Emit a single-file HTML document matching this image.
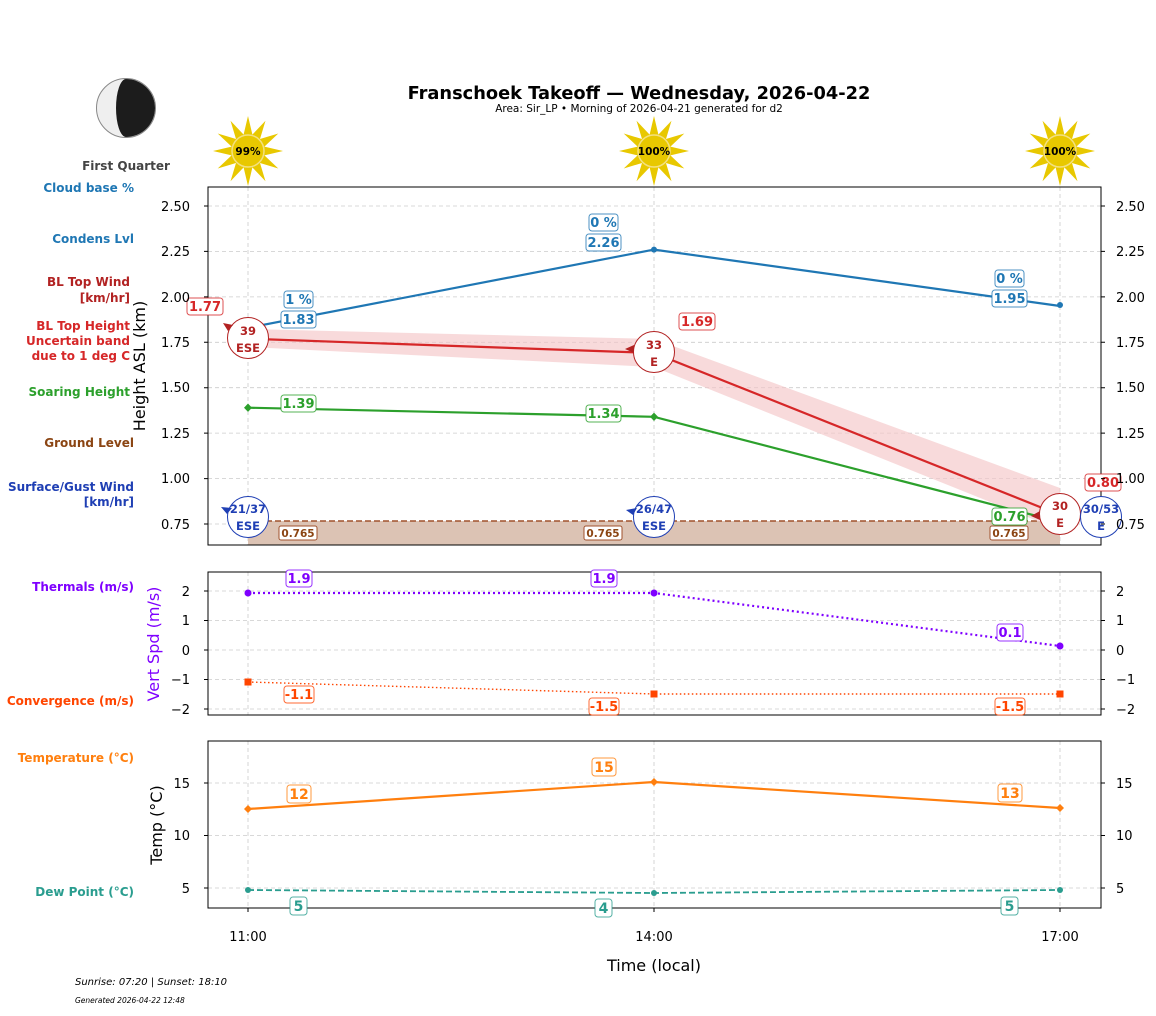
<!DOCTYPE html>
<html><head><meta charset="utf-8"><style>
body{margin:0;background:#fff}
svg{font-family:"DejaVu Sans","Liberation Sans",sans-serif}
.g{stroke:#ccc;stroke-width:0.8;stroke-dasharray:4,3}
</style></head><body>
<svg width="1156" height="1011" viewBox="0 0 1156 1011" xmlns="http://www.w3.org/2000/svg">
<defs>
<g id="sun">
<polygon fill="#e8c800" points="35,0 16.4,4.4 30.3,17.5 12,12 17.5,30.3 4.4,16.4 0,35 -4.4,16.4 -17.5,30.3 -12,12 -30.3,17.5 -16.4,4.4 -35,0 -16.4,-4.4 -30.3,-17.5 -12,-12 -17.5,-30.3 -4.4,-16.4 0,-35 4.4,-16.4 17.5,-30.3 12,-12 30.3,-17.5 16.4,-4.4"/>
<circle r="16" fill="#e8c800" stroke="#f3e080" stroke-width="1.5"/>
</g>
</defs>
<text x="639" y="99" text-anchor="middle" font-size="17.8" font-weight="bold">Franschoek Takeoff — Wednesday, 2026-04-22</text>
<text x="639" y="112" text-anchor="middle" font-size="10.5">Area: Sir_LP • Morning of 2026-04-21 generated for d2</text>
<circle cx="126" cy="108" r="29.5" fill="#efefef" stroke="#888" stroke-width="1"/>
<path d="M126,79 A29,29 0 0 1 126,137 A10,29 0 0 1 126,79Z" fill="#1c1c1c"/>
<text x="126" y="170" text-anchor="middle" font-size="12" font-weight="bold" fill="#444">First Quarter</text>
<use href="#sun" x="248" y="151"/><text x="248" y="155" text-anchor="middle" font-size="10.5" font-weight="bold">99%</text>
<use href="#sun" x="654" y="151"/><text x="654" y="155" text-anchor="middle" font-size="10.5" font-weight="bold">100%</text>
<use href="#sun" x="1060" y="151"/><text x="1060" y="155" text-anchor="middle" font-size="10.5" font-weight="bold">100%</text>
<g font-size="12" font-weight="bold" text-anchor="end">
<text x="134" y="192" fill="#1f77b4">Cloud base %</text>
<text x="134" y="243" fill="#1f77b4">Condens Lvl</text>
<text x="130" y="286" fill="#b22222">BL Top Wind</text>
<text x="130" y="302" fill="#b22222">[km/hr]</text>
<text x="130" y="330" fill="#d62728">BL Top Height</text>
<text x="130" y="345" fill="#d62728">Uncertain band</text>
<text x="130" y="360" fill="#d62728">due to 1 deg C</text>
<text x="130" y="396" fill="#2ca02c">Soaring Height</text>
<text x="134" y="447" fill="#8b4513">Ground Level</text>
<text x="134" y="491" fill="#1f3fb4">Surface/Gust Wind</text>
<text x="134" y="506" fill="#1f3fb4">[km/hr]</text>
<text x="134" y="591" fill="#7f00ff">Thermals (m/s)</text>
<text x="134" y="705" fill="#ff4500">Convergence (m/s)</text>
<text x="134" y="762" fill="#ff7f0e">Temperature (°C)</text>
<text x="134" y="896" fill="#2a9d8f">Dew Point (°C)</text>
</g>
<g class="g">
<line x1="248" y1="187" x2="248" y2="545"/><line x1="654" y1="187" x2="654" y2="545"/><line x1="1060" y1="187" x2="1060" y2="545"/>
<line x1="208" y1="206" x2="1101" y2="206"/><line x1="208" y1="251.4" x2="1101" y2="251.4"/><line x1="208" y1="296.9" x2="1101" y2="296.9"/><line x1="208" y1="342.3" x2="1101" y2="342.3"/><line x1="208" y1="387.7" x2="1101" y2="387.7"/><line x1="208" y1="433.1" x2="1101" y2="433.1"/><line x1="208" y1="478.6" x2="1101" y2="478.6"/><line x1="208" y1="524" x2="1101" y2="524"/>
</g>
<rect x="248" y="521" width="812" height="24" fill="#dcc3b4"/>
<line x1="248" y1="521" x2="1060" y2="521" stroke="#a0522d" stroke-width="1.5" stroke-dasharray="6,3"/>
<polygon points="248,329 654,339 1060,488 1060,530 654,367 248,347" fill="#f5c6c8" opacity="0.65"/>
<polyline points="248,338.7 654,353 1060,515" fill="none" stroke="#d62728" stroke-width="2.2"/>
<polyline points="248,327.8 654,249.6 1060,306" fill="none" stroke="#1f77b4" stroke-width="2.2"/>
<circle cx="654" cy="249.6" r="3" fill="#1f77b4"/><circle cx="1060" cy="305" r="3" fill="#1f77b4"/>
<polyline points="248,407.7 654,416.8 1060,522" fill="none" stroke="#2ca02c" stroke-width="2.2"/>
<path d="M248,403.5l4,4.2-4,4.2-4-4.2z M654,412.6l4,4.2-4,4.2-4-4.2z" fill="#2ca02c"/>
<rect x="208" y="187" width="893" height="358" fill="none" stroke="#000" stroke-width="1"/>
<g font-size="11.5" font-weight="bold" text-anchor="middle">
<circle cx="248" cy="338" r="20.5" fill="#fff" stroke="#b22222"/><text x="248" y="335" fill="#b22222">39</text><text x="248" y="352" fill="#b22222">ESE</text>
<polygon points="223,323 233,325 228,331" fill="#b22222"/>
<circle cx="654" cy="352" r="20.5" fill="#fff" stroke="#b22222"/><text x="654" y="349" fill="#b22222">33</text><text x="654" y="366" fill="#b22222">E</text>
<polygon points="625,349 634,345 634,353" fill="#b22222"/>
<circle cx="1060" cy="514" r="20.5" fill="#fff" stroke="#b22222"/><text x="1060" y="510" fill="#b22222">30</text><text x="1060" y="527" fill="#b22222">E</text>
<polygon points="1031,516 1040,511 1040,520" fill="#b22222"/>
<circle cx="248" cy="517" r="20.5" fill="#fff" stroke="#1f3fb4"/><text x="248" y="513" fill="#1f3fb4">21/37</text><text x="248" y="530" fill="#1f3fb4">ESE</text>
<polygon points="221,507 232,508 227,514" fill="#1f3fb4"/>
<circle cx="654" cy="517" r="20.5" fill="#fff" stroke="#1f3fb4"/><text x="654" y="513" fill="#1f3fb4">26/47</text><text x="654" y="530" fill="#1f3fb4">ESE</text>
<polygon points="626,510 637,508 633,515" fill="#1f3fb4"/>
<circle cx="1101" cy="517" r="20.5" fill="#fff" stroke="#1f3fb4"/><text x="1101" y="513" fill="#1f3fb4">30/53</text><text x="1101" y="530" fill="#1f3fb4">E</text>
</g>
<g font-size="13" font-weight="bold" text-anchor="middle">
<rect x="284" y="291" width="29" height="17" rx="3" fill="#fff" stroke="#1f77b4" stroke-opacity="0.8"/><text x="298.5" y="304" fill="#1f77b4">1 %</text>
<rect x="281" y="311" width="35" height="17" rx="3" fill="#fff" stroke="#1f77b4" stroke-opacity="0.8"/><text x="298.5" y="324" fill="#1f77b4">1.83</text>
<rect x="589" y="214" width="29" height="17" rx="3" fill="#fff" stroke="#1f77b4" stroke-opacity="0.8"/><text x="603.5" y="227" fill="#1f77b4">0 %</text>
<rect x="586" y="234" width="35" height="17" rx="3" fill="#fff" stroke="#1f77b4" stroke-opacity="0.8"/><text x="603.5" y="247" fill="#1f77b4">2.26</text>
<rect x="995" y="270" width="29" height="17" rx="3" fill="#fff" stroke="#1f77b4" stroke-opacity="0.8"/><text x="1009.5" y="283" fill="#1f77b4">0 %</text>
<rect x="992" y="290" width="35" height="17" rx="3" fill="#fff" stroke="#1f77b4" stroke-opacity="0.8"/><text x="1009.5" y="303" fill="#1f77b4">1.95</text>
<rect x="187" y="298" width="36" height="17" rx="3" fill="#fff" stroke="#d62728" stroke-opacity="0.8"/><text x="205" y="311" fill="#d62728">1.77</text>
<rect x="679" y="313" width="36" height="17" rx="3" fill="#fff" stroke="#d62728" stroke-opacity="0.8"/><text x="697" y="326" fill="#d62728">1.69</text>
<rect x="1085" y="474" width="36" height="17" rx="3" fill="#fff" stroke="#d62728" stroke-opacity="0.8"/><text x="1103" y="487" fill="#d62728">0.80</text>
<rect x="281" y="395" width="35" height="17" rx="3" fill="#fff" stroke="#2ca02c" stroke-opacity="0.8"/><text x="298.5" y="408" fill="#2ca02c">1.39</text>
<rect x="586" y="405" width="35" height="17" rx="3" fill="#fff" stroke="#2ca02c" stroke-opacity="0.8"/><text x="603.5" y="418" fill="#2ca02c">1.34</text>
<rect x="992" y="508" width="35" height="17" rx="3" fill="#fff" stroke="#2ca02c" stroke-opacity="0.8"/><text x="1009.5" y="521" fill="#2ca02c">0.76</text>
</g>
<g font-size="10.5" font-weight="bold" text-anchor="middle" fill="#8b4513">
<rect x="279" y="526" width="38" height="14" rx="2" fill="#fff" stroke="#a0522d"/><text x="298" y="537">0.765</text>
<rect x="584" y="526" width="38" height="14" rx="2" fill="#fff" stroke="#a0522d"/><text x="603" y="537">0.765</text>
<rect x="990" y="526" width="38" height="14" rx="2" fill="#fff" stroke="#a0522d"/><text x="1009" y="537">0.765</text>
</g>
<g font-size="13">
<g text-anchor="end"><text x="190" y="211">2.50</text><text x="190" y="256">2.25</text><text x="190" y="302">2.00</text><text x="190" y="347">1.75</text><text x="190" y="392">1.50</text><text x="190" y="438">1.25</text><text x="190" y="483">1.00</text><text x="190" y="529">0.75</text></g>
<g><text x="1116" y="211">2.50</text><text x="1116" y="256">2.25</text><text x="1116" y="302">2.00</text><text x="1116" y="347">1.75</text><text x="1116" y="392">1.50</text><text x="1116" y="438">1.25</text><text x="1116" y="483">1.00</text><text x="1116" y="529">0.75</text></g>
</g>
<g stroke="#000"><path d="M204,206h4M204,251.4h4M204,296.9h4M204,342.3h4M204,387.7h4M204,433.1h4M204,478.6h4M204,524h4M1101,206h4M1101,251.4h4M1101,296.9h4M1101,342.3h4M1101,387.7h4M1101,433.1h4M1101,478.6h4M1101,524h4"/></g>
<text transform="translate(145,366) rotate(-90)" text-anchor="middle" font-size="16">Height ASL (km)</text>
<g class="g">
<line x1="248" y1="572" x2="248" y2="715"/><line x1="654" y1="572" x2="654" y2="715"/><line x1="1060" y1="572" x2="1060" y2="715"/>
<line x1="208" y1="591" x2="1101" y2="591"/><line x1="208" y1="620.5" x2="1101" y2="620.5"/><line x1="208" y1="650" x2="1101" y2="650"/><line x1="208" y1="679.5" x2="1101" y2="679.5"/><line x1="208" y1="709" x2="1101" y2="709"/>
</g>
<polyline points="248,593 654,593 1060,646" fill="none" stroke="#7f00ff" stroke-width="2.2" stroke-dasharray="2,3"/>
<circle cx="248" cy="593" r="3.5" fill="#7f00ff"/><circle cx="654" cy="593" r="3.5" fill="#7f00ff"/><circle cx="1060" cy="646" r="3.5" fill="#7f00ff"/>
<polyline points="248,682 654,694 1060,694" fill="none" stroke="#ff4500" stroke-width="1.4" stroke-dasharray="1.5,2.5"/>
<rect x="244.5" y="678.5" width="7" height="7" fill="#ff4500"/><rect x="650.5" y="690.5" width="7" height="7" fill="#ff4500"/><rect x="1056.5" y="690.5" width="7" height="7" fill="#ff4500"/>
<rect x="208" y="572" width="893" height="143" fill="none" stroke="#000"/>
<g font-size="13" font-weight="bold" text-anchor="middle">
<rect x="286" y="570" width="26" height="17" rx="3" fill="#fff" stroke="#7f00ff" stroke-opacity="0.8"/><text x="299" y="583" fill="#7f00ff">1.9</text>
<rect x="591" y="570" width="26" height="17" rx="3" fill="#fff" stroke="#7f00ff" stroke-opacity="0.8"/><text x="604" y="583" fill="#7f00ff">1.9</text>
<rect x="997" y="624" width="26" height="17" rx="3" fill="#fff" stroke="#7f00ff" stroke-opacity="0.8"/><text x="1010" y="637" fill="#7f00ff">0.1</text>
<rect x="284" y="686" width="30" height="17" rx="3" fill="#fff" stroke="#ff4500" stroke-opacity="0.8"/><text x="299" y="699" fill="#ff4500">-1.1</text>
<rect x="589" y="698" width="30" height="17" rx="3" fill="#fff" stroke="#ff4500" stroke-opacity="0.8"/><text x="604" y="711" fill="#ff4500">-1.5</text>
<rect x="995" y="698" width="30" height="17" rx="3" fill="#fff" stroke="#ff4500" stroke-opacity="0.8"/><text x="1010" y="711" fill="#ff4500">-1.5</text>
</g>
<g font-size="13">
<g text-anchor="end"><text x="190" y="596">2</text><text x="190" y="625">1</text><text x="190" y="655">0</text><text x="190" y="684">−1</text><text x="190" y="714">−2</text></g>
<g><text x="1116" y="596">2</text><text x="1116" y="625">1</text><text x="1116" y="655">0</text><text x="1116" y="684">−1</text><text x="1116" y="714">−2</text></g>
</g>
<g stroke="#000"><path d="M204,591h4M204,620.5h4M204,650h4M204,679.5h4M204,709h4M1101,591h4M1101,620.5h4M1101,650h4M1101,679.5h4M1101,709h4"/></g>
<text transform="translate(159,644) rotate(-90)" text-anchor="middle" font-size="16" fill="#7f00ff">Vert Spd (m/s)</text>
<g class="g">
<line x1="248" y1="741" x2="248" y2="908"/><line x1="654" y1="741" x2="654" y2="908"/><line x1="1060" y1="741" x2="1060" y2="908"/>
<line x1="208" y1="783" x2="1101" y2="783"/><line x1="208" y1="835.5" x2="1101" y2="835.5"/><line x1="208" y1="888" x2="1101" y2="888"/>
</g>
<polyline points="248,809 654,782 1060,808" fill="none" stroke="#ff7f0e" stroke-width="2.2"/>
<path d="M248,805l4,4-4,4-4-4z M654,778l4,4-4,4-4-4z M1060,804l4,4-4,4-4-4z" fill="#ff7f0e"/>
<polyline points="248,890 654,893 1060,890" fill="none" stroke="#2a9d8f" stroke-width="1.8" stroke-dasharray="6,3"/>
<circle cx="248" cy="890" r="3" fill="#2a9d8f"/><circle cx="654" cy="893" r="3" fill="#2a9d8f"/><circle cx="1060" cy="890" r="3" fill="#2a9d8f"/>
<rect x="208" y="741" width="893" height="167" fill="none" stroke="#000"/>
<g font-size="14" font-weight="bold" text-anchor="middle">
<rect x="287" y="785" width="24" height="18" rx="3" fill="#fff" stroke="#ff7f0e" stroke-opacity="0.8"/><text x="299" y="799" fill="#ff7f0e">12</text>
<rect x="592" y="758" width="24" height="18" rx="3" fill="#fff" stroke="#ff7f0e" stroke-opacity="0.8"/><text x="604" y="772" fill="#ff7f0e">15</text>
<rect x="998" y="784" width="24" height="18" rx="3" fill="#fff" stroke="#ff7f0e" stroke-opacity="0.8"/><text x="1010" y="798" fill="#ff7f0e">13</text>
<rect x="290" y="897" width="17" height="18" rx="3" fill="#fff" stroke="#2a9d8f" stroke-opacity="0.8"/><text x="298.5" y="911" fill="#2a9d8f">5</text>
<rect x="595" y="899" width="17" height="18" rx="3" fill="#fff" stroke="#2a9d8f" stroke-opacity="0.8"/><text x="603.5" y="913" fill="#2a9d8f">4</text>
<rect x="1001" y="897" width="17" height="18" rx="3" fill="#fff" stroke="#2a9d8f" stroke-opacity="0.8"/><text x="1009.5" y="911" fill="#2a9d8f">5</text>
</g>
<g font-size="13">
<g text-anchor="end"><text x="190" y="788">15</text><text x="190" y="840">10</text><text x="190" y="893">5</text></g>
<g><text x="1116" y="788">15</text><text x="1116" y="840">10</text><text x="1116" y="893">5</text></g>
</g>
<g stroke="#000"><path d="M204,783h4M204,835.5h4M204,888h4M1101,783h4M1101,835.5h4M1101,888h4M248,908v4M654,908v4M1060,908v4"/></g>
<text transform="translate(162,825) rotate(-90)" text-anchor="middle" font-size="16">Temp (°C)</text>
<g font-size="13" text-anchor="middle"><text x="248" y="941">11:00</text><text x="654" y="941">14:00</text><text x="1060" y="941">17:00</text></g>
<text x="654" y="971" text-anchor="middle" font-size="16">Time (local)</text>
<text x="75" y="985" font-size="10" font-style="italic">Sunrise: 07:20 | Sunset: 18:10</text>
<text x="75" y="1003" font-size="7.5" font-style="italic">Generated 2026-04-22 12:48</text>
</svg>
</body></html>
